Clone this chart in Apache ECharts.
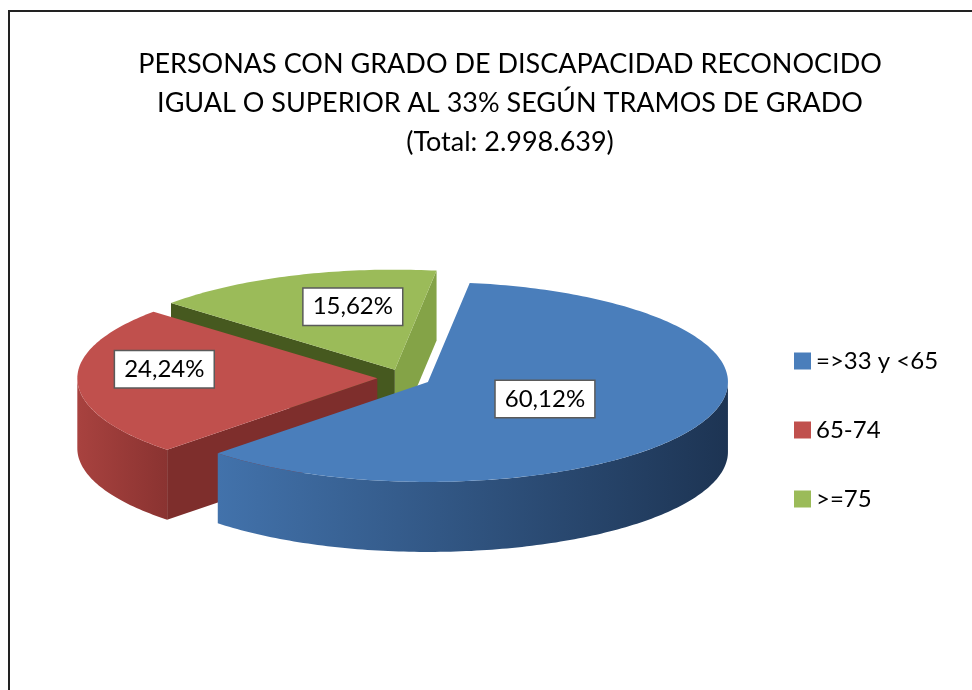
<!DOCTYPE html>
<html>
<head>
<meta charset="utf-8">
<script src="https://cdn.jsdelivr.net/npm/echarts@6/dist/echarts.min.js"></script>
<style>
  html, body { margin: 0; padding: 0; background: #fff; }
  #chart { width: 972px; height: 690px; }
</style>
</head>
<body>
<div id="chart"></div>
<script>
// data
const categories = ['=>33 y <65', '65-74', '>=75'];
const values = [60.12, 24.24, 15.62];
const valueLabels = ['60,12%', '24,24%', '15,62%'];
const titleLines = [
    'PERSONAS CON GRADO DE DISCAPACIDAD RECONOCIDO',
    'IGUAL O SUPERIOR AL 33% SEGÚN TRAMOS DE GRADO',
    '(Total: 2.998.639)'
];

// look of the 3d pie
const topColors  = ['#4a7ebb', '#c0504d', '#9bbb59'];
const wallColors = [['#4272ab', '#1d3453'], ['#a8423f', '#8a3331'], ['#7f9c45', '#6a8535']];
const cutColors  = [['#2f5682', '#253f60'], ['#7e2e2c', '#6e2725'], ['#46591f', '#84a347']];
const labelShift = [[0.39, 0.17], [-0.71, -0.09], [-0.14, -0.63]];

const CX = 404, CY = 378, RX = 300, RY = 100, DEPTH = 70;
const START = 8, EXPLODE = 0.089;
const FONT = 'Lato, "Open Sans", sans-serif';

let total = values.reduce((a, b) => a + b, 0);
let startAt = [];
let acc = 0;
for (let i = 0; i < values.length; i++) {
    startAt.push(acc);
    acc += values[i];
}

const rad = d => d * Math.PI / 180;

function renderSlice(params, api) {
    let i = params.dataIndex;
    let a1 = START + startAt[i] / total * 360;
    let a2 = START + (startAt[i] + api.value(0)) / total * 360;
    let mid = (a1 + a2) / 2;
    let cx = CX + EXPLODE * RX * Math.sin(rad(mid));
    let cy = CY - EXPLODE * RY * Math.cos(rad(mid));
    let pt = (a, dz) => [cx + RX * Math.sin(rad(a)), cy - RY * Math.cos(rad(a)) + dz];
    let arc = (from, to, dz) => {
        let out = [];
        let n = Math.max(2, Math.ceil(Math.abs(to - from)));
        for (let k = 0; k <= n; k++) out.push(pt(from + (to - from) * k / n, dz));
        return out;
    };
    let avgY = ps => ps.reduce((s, p) => s + p[1], 0) / ps.length;
    let children = [];

    // cut faces (only the ones turned to the viewer)
    if (Math.sin(rad(a1)) < 0) {
        let pts = [[cx, cy], pt(a1, 0), pt(a1, DEPTH), [cx, cy + DEPTH]];
        children.push({
            type: 'polygon', z2: Math.round(avgY(pts.slice(0, 2))),
            shape: { points: pts },
            style: { fill: cutColors[i][0] }
        });
    }
    if (Math.sin(rad(a2)) > 0) {
        let pts = [[cx, cy], pt(a2, 0), pt(a2, DEPTH), [cx, cy + DEPTH]];
        children.push({
            type: 'polygon', z2: Math.round(avgY(pts.slice(0, 2))),
            shape: { points: pts },
            style: { fill: cutColors[i][1] }
        });
    }

    // curved front wall
    [[90, 270], [450, 630]].forEach(r => {
        let lo = Math.max(a1, r[0]), hi = Math.min(a2, r[1]);
        if (lo < hi) {
            let top = arc(lo, hi, 0);
            let pts = top.concat(arc(hi, lo, DEPTH));
            children.push({
                type: 'polygon', z2: Math.round(avgY(top)) + 20,
                shape: { points: pts },
                style: {
                    fill: new echarts.graphic.LinearGradient(0, 0, 1, 0, [
                        { offset: 0, color: wallColors[i][0] },
                        { offset: 1, color: wallColors[i][1] }
                    ])
                }
            });
        }
    });

    // top face
    children.push({
        type: 'polygon', z2: 1000,
        shape: { points: [[cx, cy]].concat(arc(a1, a2, 0)) },
        style: { fill: topColors[i] }
    });

    // value label
    children.push({
        type: 'text', z2: 2000,
        x: cx + labelShift[i][0] * RX,
        y: cy + labelShift[i][1] * RY,
        style: {
            text: valueLabels[i],
            font: '24px ' + FONT,
            fill: '#000',
            align: 'center',
            verticalAlign: 'middle',
            backgroundColor: '#fff',
            borderColor: '#5a5a5a',
            borderWidth: 1.5,
            padding: [7, 9, 5, 9]
        }
    });

    return { type: 'group', children: children };
}

let chart = echarts.init(document.getElementById('chart'));

let series = [{
    name: 'pie3d',
    type: 'custom',
    coordinateSystem: 'none',
    renderItem: renderSlice,
    data: values.map(v => [v]),
    silent: true
}];
// legend entries
categories.forEach((c, i) => {
    series.push({
        name: c,
        type: 'custom',
        coordinateSystem: 'none',
        renderItem: () => null,
        itemStyle: { color: topColors[i] },
        data: []
    });
});

let option = {
    animation: false,
    title: {
        text: titleLines.join('\n'),
        left: 505,
        top: 40,
        textAlign: 'center',
        textStyle: {
            fontFamily: FONT,
            fontSize: 27,
            fontWeight: 'normal',
            color: '#000',
            lineHeight: 39
        }
    },
    legend: {
        data: categories.map(c => ({ name: c, icon: 'rect' })),
        orient: 'vertical',
        left: 789,
        top: 344,
        itemWidth: 17,
        itemHeight: 17,
        itemGap: 45,
        textStyle: { fontFamily: FONT, fontSize: 24, color: '#000' }
    },
    graphic: [{
        type: 'rect',
        shape: { x: 9, y: 11, width: 1000, height: 1000 },
        style: { fill: 'none', stroke: '#222', lineWidth: 2 },
        silent: true
    }],
    series: series
};
chart.setOption(option);
</script>
</body>
</html>
